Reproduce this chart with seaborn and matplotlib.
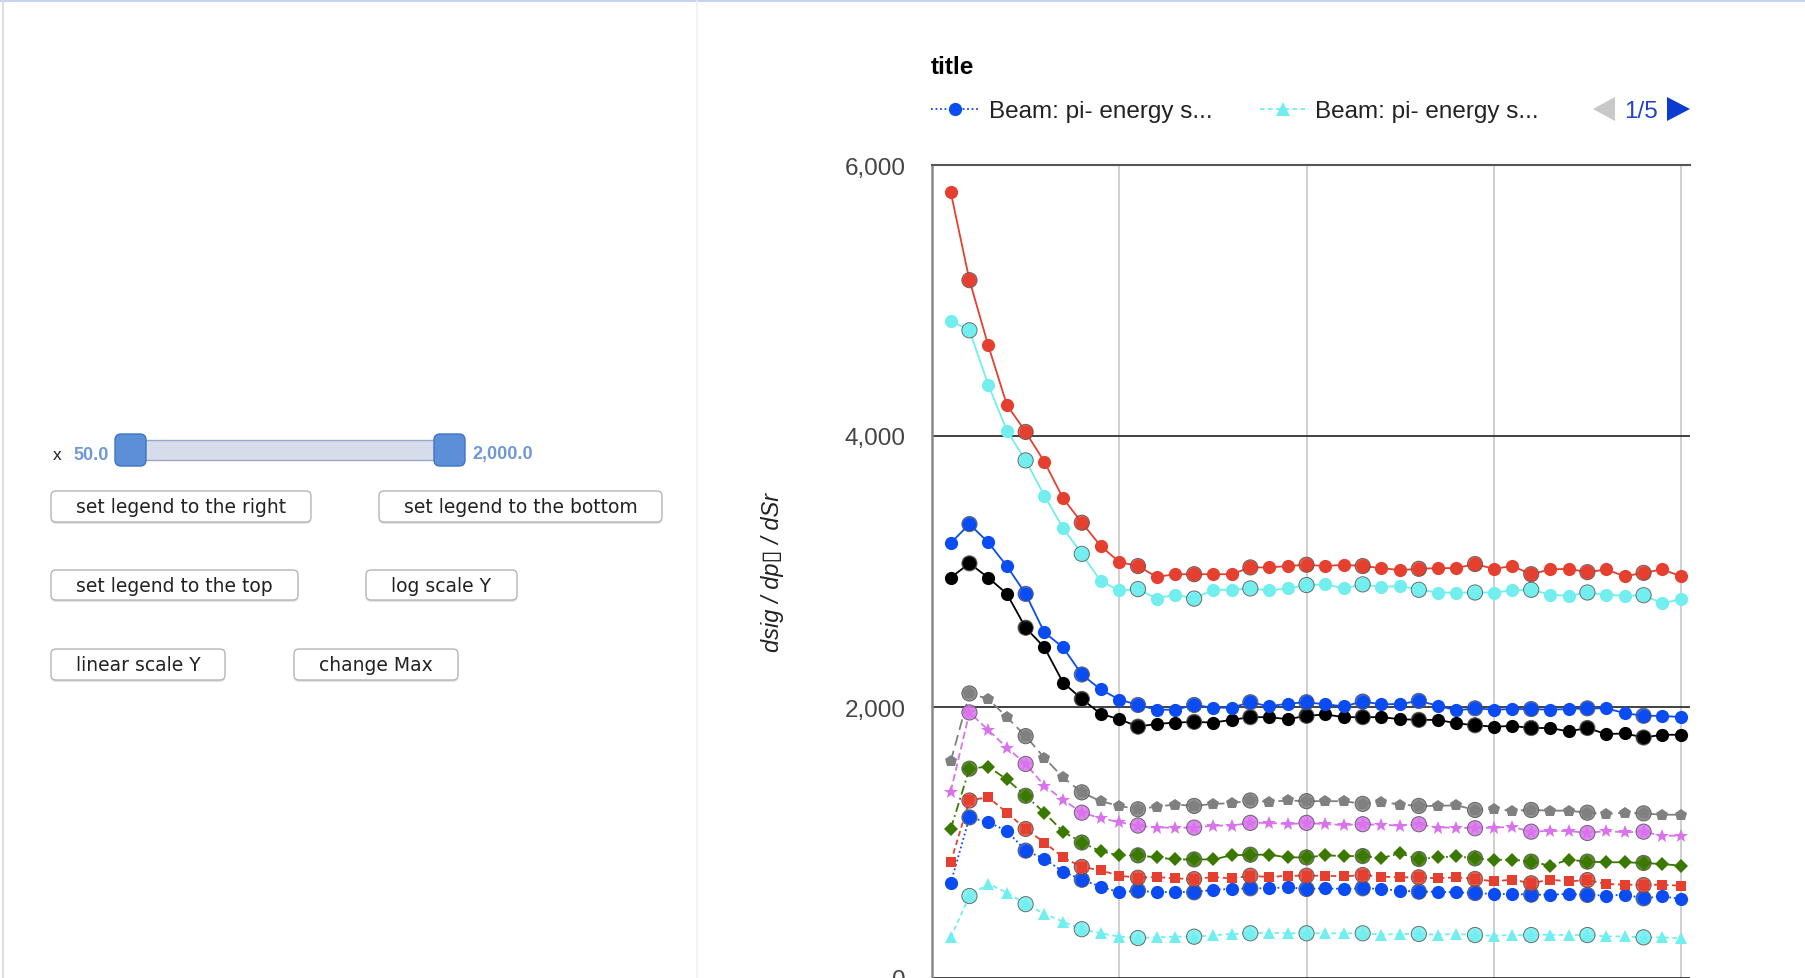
# -*- coding: utf-8 -*-

### dsig / dp / dSr vs beam energy - dashboard screenshot ###

import pandas as pd
import matplotlib
matplotlib.use("Agg")
import matplotlib.pyplot as plt
from matplotlib.patches import FancyBboxPatch, Polygon, Rectangle
from matplotlib.lines import Line2D
from matplotlib.transforms import IdentityTransform
from matplotlib.ticker import StrMethodFormatter
import seaborn as sns

## Data ##

x_vals = [50, 100, 150, 200, 250, 300, 350, 400, 450, 500,
          550, 600, 650, 700, 750, 800, 850, 900, 950, 1000,
          1050, 1100, 1150, 1200, 1250, 1300, 1350, 1400, 1450, 1500,
          1550, 1600, 1650, 1700, 1750, 1800, 1850, 1900, 1950, 2000]

# x positions carrying the larger "data" circles
big_x = [100, 250, 400, 550, 700, 850, 1000, 1150, 1300, 1450, 1600, 1750, 1900]

red_top = [5800, 5150, 4670, 4230, 4030, 3810, 3540, 3360, 3190, 3070,
           3040, 2960, 2980, 2980, 2980, 2980, 3030, 3030, 3040, 3050,
           3040, 3050, 3040, 3025, 3010, 3020, 3025, 3025, 3055, 3020,
           3040, 2980, 3015, 3020, 2995, 3015, 2965, 2990, 3015, 2965]
cyan_top = [4850, 4780, 4380, 4040, 3820, 3560, 3320, 3130, 2930, 2860,
            2870, 2800, 2830, 2800, 2865, 2865, 2875, 2860, 2875, 2900,
            2905, 2875, 2905, 2885, 2895, 2865, 2845, 2845, 2845, 2845,
            2860, 2865, 2830, 2820, 2845, 2830, 2820, 2825, 2765, 2795]
blue_top = [3210, 3350, 3215, 3040, 2835, 2550, 2440, 2240, 2130, 2055,
            2015, 1980, 1980, 2015, 1995, 1995, 2035, 2005, 2025, 2035,
            2020, 2005, 2040, 2020, 2022, 2045, 2010, 1975, 1990, 1980,
            1985, 1985, 1980, 1985, 1990, 1990, 1955, 1935, 1935, 1925]
black = [2955, 3060, 2955, 2835, 2585, 2440, 2180, 2060, 1950, 1910,
         1855, 1875, 1885, 1890, 1885, 1905, 1925, 1925, 1910, 1935,
         1945, 1925, 1925, 1925, 1910, 1905, 1905, 1880, 1865, 1855,
         1860, 1845, 1845, 1820, 1845, 1800, 1805, 1775, 1795, 1795]
gray = [1600, 2100, 2060, 1925, 1785, 1625, 1480, 1370, 1305, 1270,
        1245, 1265, 1280, 1270, 1285, 1290, 1310, 1300, 1310, 1305,
        1305, 1305, 1285, 1300, 1280, 1270, 1270, 1275, 1240, 1245,
        1235, 1240, 1235, 1235, 1220, 1210, 1220, 1215, 1205, 1205]
magenta = [1375, 1960, 1830, 1700, 1580, 1420, 1315, 1220, 1180, 1150,
           1125, 1110, 1110, 1110, 1125, 1125, 1145, 1145, 1135, 1145,
           1135, 1130, 1135, 1130, 1125, 1135, 1110, 1110, 1105, 1110,
           1115, 1080, 1085, 1085, 1070, 1085, 1075, 1080, 1050, 1050]
green = [1100, 1545, 1560, 1465, 1345, 1220, 1080, 1000, 935, 905,
         905, 890, 875, 875, 875, 905, 910, 910, 890, 890,
         905, 900, 900, 885, 920, 878, 890, 898, 883, 873,
         873, 859, 829, 873, 859, 854, 854, 849, 841, 829]
red_sq = [855, 1310, 1335, 1220, 1100, 1000, 890, 820, 795, 755,
          740, 745, 735, 730, 745, 735, 755, 745, 755, 755,
          755, 750, 760, 748, 743, 743, 736, 743, 731, 713,
          726, 699, 726, 713, 723, 694, 689, 686, 689, 681]
blue_dot = [700, 1185, 1150, 1085, 940, 880, 785, 725, 675, 632,
            645, 632, 637, 632, 652, 657, 662, 662, 669, 657,
            662, 657, 662, 657, 644, 637, 637, 632, 627, 620,
            620, 615, 615, 620, 613, 608, 615, 588, 603, 583]
cyan_tri = [300, 605, 695, 630, 545, 475, 415, 360, 330, 305,
            295, 300, 305, 305, 315, 325, 330, 335, 330, 330,
            330, 330, 330, 320, 325, 325, 320, 325, 317, 312,
            317, 317, 320, 317, 317, 307, 307, 300, 300, 293]

curves = {"s1": blue_dot, "s2": cyan_tri, "s3": red_sq, "s4": green,
          "s5": magenta, "s6": gray, "s7": black, "s8": blue_top,
          "s9": cyan_top, "s10": red_top}

legend_labels = ["Beam: pi- energy s...", "Beam: pi- energy s..."]
button_labels = ["set legend to the right", "set legend to the bottom",
                 "set legend to the top", "log scale Y",
                 "linear scale Y", "change Max"]

## Styles ##

BLUE = "#0a4cf2"
CYAN = "#72eeee"
RED = "#e5402f"
colors = {"s1": BLUE, "s2": CYAN, "s3": RED, "s4": "#3a7800",
          "s5": "#d873ec", "s6": "#808080", "s7": "#000000",
          "s8": BLUE, "s9": CYAN, "s10": RED}
markers = {"s1": "o", "s2": "^", "s3": "s", "s4": "D", "s5": "*",
           "s6": "p", "s7": "o", "s8": "o", "s9": "o", "s10": "o"}
dashes = {"s1": (1, 1.5), "s2": (2.5, 2), "s3": (3, 2), "s4": (5, 2, 1, 2),
          "s5": (4, 2), "s6": (6, 3), "s7": "", "s8": "", "s9": "", "s10": ""}
# squares and diamonds read a bit smaller than the circles
marker_scale = {"s": 0.78, "D": 0.75, "p": 0.95, "^": 0.95, "*": 1.05}

sns.set_style("white")
plt.rcParams['font.family'] = ['Liberation Sans', 'DejaVu Sans']

## Long table ##

df = pd.concat([pd.DataFrame({"x": x_vals, "value": v, "series": k})
                for k, v in curves.items()], ignore_index=True)
df_big = df[df["x"].isin(big_x)]

W, H = 1806, 979
fig = plt.figure(figsize=(W / 100, H / 100), dpi=100)
fig.patch.set_facecolor("white")
PX = IdentityTransform()

## Chart ##

ax = fig.add_axes([932 / W, 0, 758 / W, 813 / H])
sns.lineplot(data=df, x="x", y="value", hue="series", style="series",
             palette=colors, markers=markers, dashes=dashes,
             markersize=9.5, markeredgewidth=0, linewidth=1.3,
             legend=False, ax=ax)
for line in ax.lines:
    m = line.get_marker()
    if m in marker_scale:
        line.set_markersize(9.5 * marker_scale[m])
sns.scatterplot(data=df_big, x="x", y="value", hue="series",
                palette=colors, s=120, edgecolor="#555555",
                linewidth=0.7, alpha=0.85, legend=False, ax=ax, zorder=5)

ax.set_xlim(0, 2024)
ax.set_ylim(0, 6000)
ax.set_xticks([500, 1000, 1500, 2000])
ax.set_xticklabels([])
ax.set_yticks([0, 2000, 4000, 6000])
ax.yaxis.set_major_formatter(StrMethodFormatter("{x:,.0f}"))
ax.tick_params(axis="both", length=0)
ax.tick_params(axis="y", pad=19, labelsize=17.5, labelcolor="#444444")
ax.grid(axis="x", color="#cccccc", lw=1.3)
ax.grid(axis="y", color="#333333", lw=1.3)
ax.set_axisbelow(True)
for side in ["right", "bottom"]:
    ax.spines[side].set_visible(False)
ax.spines["top"].set_color("#555555")
ax.spines["top"].set_linewidth(1.5)
ax.spines["left"].set_color("#888888")
ax.spines["left"].set_linewidth(1.8)
ax.set_xlabel("")
ax.set_ylabel("dsig / dp\u25af / dSr", fontsize=17, style="italic",
              color="#222222")
ax.yaxis.set_label_coords(-0.195, 0.5)

fig.text(931 / W, 1 - 68 / H, "title", fontsize=17.5, fontweight="bold",
         va="center", ha="left", color="#000000")

## Legend (page 1/5) ##

ly = H - 110
for (x0, x1), key, lab in [((931, 979), "s1", legend_labels[0]),
                           ((1260, 1305), "s2", legend_labels[1])]:
    fig.add_artist(Line2D([x0, x1], [ly, ly], transform=PX, color=colors[key],
                          lw=1.3, dashes=dashes[key]))
    fig.add_artist(Line2D([(x0 + x1) / 2], [ly], transform=PX, color=colors[key],
                          marker=markers[key], markersize=9.5, mew=0))
    fig.text((x1 + 10) / W, (ly - 2) / H, lab, fontsize=17.5, color="#222222",
             va="center", ha="left")
fig.add_artist(Polygon([[1593, ly], [1615, ly + 12], [1615, ly - 12]],
                       closed=True, transform=PX, fc="#c8c8c8", ec="none"))
fig.text(1624 / W, (ly - 2) / H, "1/5", fontsize=17.5, color="#2244cc",
         va="center", ha="left")
fig.add_artist(Polygon([[1667, ly + 12], [1667, ly - 12], [1690, ly]],
                       closed=True, transform=PX, fc="#0b3bd0", ec="none"))

## Left control panel ##

fig.add_artist(Line2D([0, W], [H - 2, H - 2], transform=PX, color="#c5d3ee", lw=1.5))
fig.add_artist(Line2D([3, 3], [0, H - 2], transform=PX, color="#d8d8d8", lw=1.2))
fig.add_artist(Line2D([697, 697], [0, H - 2], transform=PX, color="#f0f0f0", lw=1.2))

sy = H - 451
fig.text(53 / W, (sy - 4) / H, "x", fontsize=12.5, color="#222222", va="center")
fig.text(73 / W, (sy - 4) / H, "50.0", fontsize=13, color="#6f98d8",
         fontweight="bold", va="center")
fig.text(472 / W, (sy - 4) / H, "2,000.0", fontsize=13, color="#6f98d8",
         fontweight="bold", va="center")
fig.add_artist(Rectangle((140, sy - 10), 300, 20, transform=PX,
                         fc="#d7dcea", ec="#98a8c8", lw=1))
for hx in [115, 434]:
    fig.add_artist(FancyBboxPatch((hx, sy - 16), 31, 32, transform=PX,
                                  boxstyle="round,pad=0,rounding_size=6",
                                  fc="#5b8fd8", ec="#3f74c0", lw=1))

buttons = [(51, 492, 311, 523), (379, 492, 662, 523),
           (51, 571, 298, 601), (366, 571, 517, 601),
           (51, 650, 225, 681), (294, 650, 458, 681)]
for (bx0, by0, bx1, by1), lab in zip(buttons, button_labels):
    fig.add_artist(FancyBboxPatch((bx0, H - by1 - 2), bx1 - bx0, by1 - by0,
                                  transform=PX,
                                  boxstyle="round,pad=0,rounding_size=5",
                                  fc="#e2e2e2", ec="none"))
    fig.add_artist(FancyBboxPatch((bx0, H - by1), bx1 - bx0, by1 - by0,
                                  transform=PX,
                                  boxstyle="round,pad=0,rounding_size=5",
                                  fc="white", ec="#b5b5b5", lw=1))
    fig.text((bx0 + bx1) / 2 / W, (H - (by0 + by1) / 2) / H, lab,
             fontsize=13.5, family="DejaVu Sans", color="#222222",
             ha="center", va="center")

fig.savefig("out.png", dpi=100)
